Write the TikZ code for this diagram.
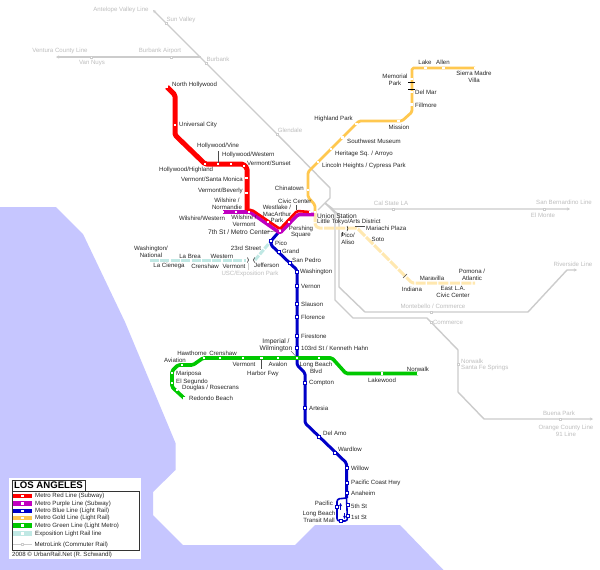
\documentclass[tikz,border=0pt]{standalone}
\usepackage{fontspec}
\setmainfont{Liberation Sans}
\usetikzlibrary{backgrounds,arrows.meta}

\definecolor{water}{RGB}{198,198,255}
\definecolor{redln}{RGB}{255,0,0}
\definecolor{purpleln}{RGB}{192,0,192}
\definecolor{blueln}{RGB}{0,0,200}
\definecolor{goldln}{RGB}{255,200,80}
\definecolor{paleln}{RGB}{255,232,176}
\definecolor{greenln}{RGB}{0,200,0}
\definecolor{expoln}{RGB}{192,232,228}
\definecolor{railln}{RGB}{204,204,204}
\definecolor{railtx}{RGB}{190,190,190}

\tikzset{
  lbl/.style={font=\fontsize{6.1}{6.5}\selectfont, inner sep=0pt, align=center, text=black!85},
  lblbig/.style={lbl, font=\fontsize{6.6}{7}\selectfont},
  raillbl/.style={lbl, text=railtx},
  stn/.style={rectangle, fill=white, inner sep=0pt, minimum size=2.8pt},
  bluestn/.style={stn, draw=blueln, line width=0.7pt, minimum size=3pt},
  goldstn/.style={stn, minimum size=2.4pt},
  railstn/.style={stn, draw=railln, line width=0.5pt, minimum size=2.4pt},
  swatch/.style={rectangle, inner sep=0pt, minimum width=19pt, minimum height=4.4pt},
  metro/.style={line join=round, rounded corners=1.5pt},
  rail/.style={line join=round, draw=railln, line width=1.4pt, >={Stealth[length=3.2pt,width=3.2pt]}},
  tick/.style={draw=black!70, line width=0.4pt}
}

\begin{document}
\begin{tikzpicture}[x=1pt, y=-1pt]
  \useasboundingbox (0,0) rectangle (600,570);

  % stations
  \foreach \nm/\x/\y in {noho/167/87, univ/175/125, holhi/205/164, holvi/218/164, holwe/231/164,
      versu/244/166, versm/246.7/178, verbe/246.7/193, wilwe/223/212, wilno/236/212, wilve/249/212,
      westl/268/222, metroc/280/231, persh/289/222, civic/310/212}
    \node[stn] (\nm) at (\x,\y) {};
  \foreach \nm/\x/\y in {pico/271/241, grand/279/252, sanpe/290/263, washi/297/272, verno/297/286,
      slaus/297/304, flore/297/317, fires/297/336, hahn/297/348, compt/305/383, artes/305/408,
      delam/319/437, wardl/335/453, willo/346.5/468, pch/346.5/483, anahe/346.5/493,
      pacif/337/507, fifth/347.5/505, first/347.5/516, tmall/341/521}
    \node[bluestn] (\nm) at (\x,\y) {};
  \foreach \nm/\x/\y in {sierr/475/68, allen/443.5/68, lake/425.5/68, memor/411.5/79, delma/411.5/92,
      fillm/411.5/104.5, missi/398.5/121, highl/356.5/124, swmus/342.5/137.5, herit/331/149,
      linco/318/162, chin/308/190, union/315/212}
    \node[goldstn] (\nm) at (\x,\y) {};
  \foreach \nm/\x/\y in {aviat/182/365, hawth/204/358, crens/220/358, vermo/243/358, harbo/261.5/358,
      avalo/278/358, imper/297/358, lobea/319/358, lakew/382/373.5, norwa/418/373.5,
      maripo/172/373, elseg/172/383, dougl/177/390, redon/184/398}
    \node[stn] (\nm) at (\x,\y) {};
  \foreach \nm/\x/\y in {sunva/166/23, burba/206/63, glend/277/134, vannu/91/57, burair/171/57,
      calst/393/209, elmon/544/209, monte/431/312, comme/431/322, sfspr/458/364, buena/560/419}
    \node[railstn] (\nm) at (\x,\y) {};

  % bends and line ends
  \foreach \nm/\x/\y in {rb1/175/95, rb2/175/135, rb3/243/164, rb4/247/168, rb5/247/210, rb6/252/210,
      rb7/280/229, rb8/297/211, pb1/250/212, pb2/280/233, pb3/298/214.5, pb4/314/214.5,
      bb1/277/234, bb2/271/245, bb3/297/270, bb4/297/365, bb5/305/373, bb6/305/423, bb7/346.5/463,
      bb8/346.5/498, lb2/337/499, lb3/337/521, lb4/347.5/521,
      gb1/412/68, gb2/412/112, gb3/402/121, gb4/359/121, gb5/308/172, gb6/308/197, gb7/315/205,
      pl1/315/225, pl2/318/228, pl3/357/228, pl4/412/283, pl5/475/283,
      eb1/150/260, eb2/246/260, eb3/255/260,
      ga1/193/365, ga2/203/358, ga3/332/358, ga4/346/373.5, ga5/172/371, ga6/178/365, ga7/172/387,
      ra1/153/10, ra2/330/188, ra3/330/198, ra4/318/210, ra5/325/203, ra6/56/57, ra7/201/57,
      ra8/333/209, ra9/570/209, ra10/339/215, ra11/339/287, ra12/365/312, ra13/528/312, ra14/567/270,
      ra15/577/270, ra16/335/213, ra17/335/300, ra18/353/318, ra19/427/318, ra20/458/350,
      ra21/458/392, ra22/484/419, ra23/593/419,
      ta1/218/151, ta2/296/205, ta3/296/210, ta4/265/232, ta5/276/231, ta6/291/351, ta7/295.5/356,
      ta8/261.5/369, ta9/355/226, ta10/365/226, ta11/342/232, ta12/342/236, ta13/403/278,
      ta14/407/274, ta15/248/263, ta16/248/270, ta17/408/82.5, ta18/415/82.5, ta19/408/89,
      ta20/415/89, ta21/340.5/510, ta22/340.5/503, ta23/344.5/513, ta24/344.5/519}
    \coordinate (\nm) at (\x,\y);

  \begin{scope}[on background layer]
    \fill[white] (0,0) rectangle (600,570);
    \fill[water] (0,207) -- (56,207) -- (83,234) -- (125,322) -- (175.5,443) -- (175.5,470)
      -- (153,492) -- (153,515) -- (183,545) -- (295,545) -- (315,525) -- (400,525) -- (443.5,570)
      -- (0,570) -- cycle;

    % metrolink
    \draw[rail, <-] (ra1) -- (sunva.center) -- (burba.center) -- (glend.center) -- (ra2)
      -- (ra3) -- (ra4);
    \draw[rail, <-] (ra6) -- (vannu.center) -- (burair.center) -- (ra7);
    \draw[rail, ->] (ra5) -- (ra8) -- (calst.center) -- (elmon.center) -- (ra9);
    \draw[rail, ->] (ra5) -- (ra10) -- (ra11) -- (ra12) -- (monte.center) -- (ra13) -- (ra14) -- (ra15);
    \draw[rail, ->] (ra5) -- (ra16) -- (ra17) -- (ra18) -- (ra19) -- (ra20) -- (sfspr.center)
      -- (ra21) -- (ra22) -- (buena.center) -- (ra23);

    % metro lines
    \draw[metro, draw=paleln, line width=3pt, dash pattern=on 10pt off 1.4pt] (union.center) -- (pl1)
      -- (pl2) -- (pl3) -- (pl4) -- (pl5);
    \draw[metro, draw=expoln, line width=3pt, dash pattern=on 9pt off 1.4pt] (eb1) -- (eb2);
    \draw[metro, draw=expoln, line width=3pt, dash pattern=on 6pt off 1.4pt] (eb3) -- (pico.center);
    \draw[metro, draw=goldln, line width=2.8pt] (sierr.center) -- (gb1) -- (gb2) -- (gb3) -- (gb4)
      -- (gb5) -- (gb6) -- (gb7) -- (union.center);
    \draw[metro, draw=blueln, line width=3pt] (metroc.center) -- (bb1) -- (pico.center) -- (bb2)
      -- (bb3) -- (bb4) -- (bb5) -- (bb6) -- (bb7) -- (bb8);
    \draw[metro, draw=blueln, line width=1.6pt, rounded corners=2.5pt] (bb8) -- (lb2) -- (lb3)
      -- (lb4) -- (bb8);
    \draw[metro, draw=purpleln, line width=3.6pt] (wilwe.center) -- (pb1) -- (pb2) -- (pb3) -- (pb4);
    \draw[metro, draw=redln, line width=5pt] (noho.center) -- (rb1) -- (rb2) -- (holhi.center)
      -- (rb3) -- (rb4) -- (rb5);
    \draw[metro, draw=redln, line width=2.6pt] (rb5) -- (rb6) -- (rb7) -- (rb8) -- (civic.center);
    \draw[metro, draw=greenln, line width=3.6pt] (redon.center) -- (ga7) -- (ga5) -- (ga6) -- (ga1)
      -- (ga2) -- (ga3) -- (ga4) -- (norwa.center);

    % small marks
    \draw[blueln, line width=0.5pt, -stealth] (ta21) -- (ta22);
    \draw[blueln, line width=0.5pt, -stealth] (ta23) -- (ta24);
    \draw[tick] (holvi.center) -- (ta1);
    \draw[tick] (ta2) -- (ta3);
    \draw[tick] (ta4) -- (ta5);
    \draw[tick] (ta6) -- (ta7);
    \draw[tick] (harbo.center) -- (ta8);
    \draw[tick] (ta9) -- (ta10);
    \draw[tick] (ta11) -- (ta12);
    \draw[tick] (ta13) -- (ta14);
    \draw[railln, line width=0.5pt] (ta15) -- (ta16);
    \draw[black, line width=0.6pt] (ta17) -- (ta18);
    \draw[black, line width=0.6pt] (ta19) -- (ta20);
    \draw[black, line width=0.5pt] (247.5,257.5) to[bend left=40] (247.5,262.5);
    \draw[black, line width=0.5pt] (254.5,257.5) to[bend right=40] (254.5,262.5);
    \draw[black, line width=0.5pt] (347,226) to[bend left=40] (347,231);
  \end{scope}

  % labels to the right of their anchor
  \foreach \nm/\x/\y/\tx in {lnoho/172/85/North Hollywood, luniv/179/125/Universal City,
      lholve/197/146/{Hollywood/Vine}, lholw/222/155/{Hollywood/Western}, lvers/247/163/{Vermont/Sunset},
      lholh/159/170/{Hollywood/Highland}, lcivic/278/201/Civic Center, ltokyo/317/222/{Little Tokyo/Arts District},
      lmari/366/228/Mariachi Plaza, lpico/275/243/Pico, lgrand/282/251/Grand, lsanp/292/260/San Pedro,
      ljeff/254/265/Jefferson, lwash/300/272/Washington, lvern/301/286/Vernon, lslau/301/304/Slauson,
      lflor/301/317/Florence, lfire/301/336/Firestone, lhahn/301/348/{103rd St / Kenneth Hahn},
      lmarip/176/374/Mariposa, lelse/176/382/El Segundo, ldoug/182/388/{Douglas / Rosecrans},
      lredo/189/398/Redondo Beach, lcomp/309/383/Compton, lartes/309/408/Artesia, ldela/323/433/Del Amo,
      lward/338/449/Wardlow, lwill/351/468/Willow, lpch/351/483/Pacific Coast Hwy, lanah/351/493/Anaheim,
      lfif/351/506/5th St, lfir/351/517/1st St, ldelm/415/92/Del Mar, lfill/415/105/Fillmore,
      lswm/347/141/Southwest Museum, lheri/335/154/{Heritage Sq. / Arroyo},
      llinc/322/166/{Lincoln Heights / Cypress Park}}
    \node[lbl, anchor=west] (\nm) at (\x,\y) {\tx};
  % labels to the left of their anchor
  \foreach \nm/\x/\y/\tx in {lversm/243/179/{Vermont/Santa Monica}, lverb/243/191/{Vermont/Beverly},
      lchin/304/188/Chinatown, lhigh/353/119/Highland Park, lpacif/333/503/Pacific}
    \node[lbl, anchor=east] (\nm) at (\x,\y) {\tx};
  % labels around their anchor
  \foreach \nm/\x/\y/\tx in {lwiln/227/204/{Wilshire /\\Normandie}, lwilw/202/218/{Wilshire/Western},
      lwilv/244/221/{Wilshire /\\Vermont}, lwest/277/214/{Westlake /\\MacArthur\\Park},
      lpers/301/232/{Pershing\\Square}, lsoto/378/239/Soto, lalis/348/239/{Pico/\\Aliso},
      lindi/412/289/Indiana, lmara/432/278/Maravilla, least/453/292/{East L.A.\\Civic Center},
      lpomo/472/275/{Pomona /\\Atlantic}, l23/246/248/23rd Street, lwnat/151/252/{Washington/\\National},
      lbrea/190/256/La Brea, lwes/222/256/Western, lcien/169/266/La Cienega, lcre/205/266/Crenshaw,
      lvex/234/266/Vermont, lhaw/192/353/Hawthorne, lcrg/223/353/Crenshaw, lavi/175/360/Aviation,
      lvgr/244/364/Vermont, laval/278/364/Avalon, lharb/263/374/Harbor Fwy,
      llong/316/368/{Long Beach\\Blvd}, llake/382/380/Lakewood, lnorw/418/369/Norwalk,
      ltran/319/517/{Long Beach\\Transit Mall}, llak/425/62/Lake, lall/443/62/Allen,
      lsier/474/77/{Sierra Madre\\Villa}, lmem/395/80/{Memorial\\Park}, lmis/399/127/Mission}
    \node[lbl] (\nm) at (\x,\y) {\tx};

  \node[lblbig, anchor=west] (lmet) at (208,232) {7th St / Metro Center};
  \node[lblbig, anchor=west] (luni) at (317,216) {Union Station};
  \node[lblbig] (limp) at (276,345) {Imperial /\\Wilmington};

  % metrolink labels
  \foreach \nm/\x/\y/\tx in {rant/121/10/Antelope Valley Line, rven/60/51/Ventura County Line,
      rair/160/51/Burbank Airport, rvan/92/63/Van Nuys, rcal/391/203/Cal State LA,
      rsbl/564/202/San Bernardino Line, relm/543/215/El Monte, rriv/573/264/Riverside Line,
      rmon/433/306/{Montebello / Commerce}, rcom/448/322/Commerce, rbue/559/413/Buena Park,
      rora/566/431/{Orange County Line\\91 Line}, rusc/250/274/{USC/Exposition Park},
      rsun/181/20/Sun Valley, rbur/218/59/Burbank, rgle/290/130/Glendale}
    \node[raillbl] (\nm) at (\x,\y) {\tx};
  \node[raillbl, anchor=west, align=left] (rnor) at (461,365) {Norwalk\\Santa Fe Springs};

  % legend
  \node[rectangle, fill=white, inner sep=0pt, minimum width=132pt, minimum height=81pt] (legbg) at (75,518.5) {};
  \node[draw=black!80, line width=0.7pt, fill=white, inner sep=0pt, minimum width=73pt, minimum height=11pt,
    font=\fontsize{9.6}{10}\selectfont\bfseries] (legtitle) at (48.5,485.5) {LOS ANGELES};
  \node[draw=black!80, line width=0.7pt, inner sep=0pt, minimum width=127pt, minimum height=59pt] (legbox) at (75.5,520.5) {};
  \foreach \nm/\y/\col/\tx in {kred/496/redln/Metro Red Line (Subway), kpur/503.5/purpleln/Metro Purple Line (Subway),
      kblu/511/blueln/Metro Blue Line (Light Rail), kgol/518/goldln/Metro Gold Line (Light Rail),
      kgre/525.5/greenln/Metro Green Line (Light Metro), kexp/533.5/expoln/Exposition Light Rail line} {
    \node[swatch, fill=\col] (\nm) at (22.5,\y) {};
    \node[stn, minimum size=2.6pt] (\nm s) at (22.5,\y) {};
    \node[lbl, anchor=west] (\nm t) at (35,\y) {\tx};
  }
  \node[swatch, minimum height=1.4pt, fill=railln] (krai) at (22.5,544.5) {};
  \node[railstn] (krais) at (22.5,544.5) {};
  \node[lbl, anchor=west] (kraitx) at (34.5,544.5) {MetroLink (Commuter Rail)};
  \node[lbl, anchor=west] (legfoot) at (12,555) {2008 © UrbanRail.Net (R. Schwandl)};
\end{tikzpicture}
\end{document}
